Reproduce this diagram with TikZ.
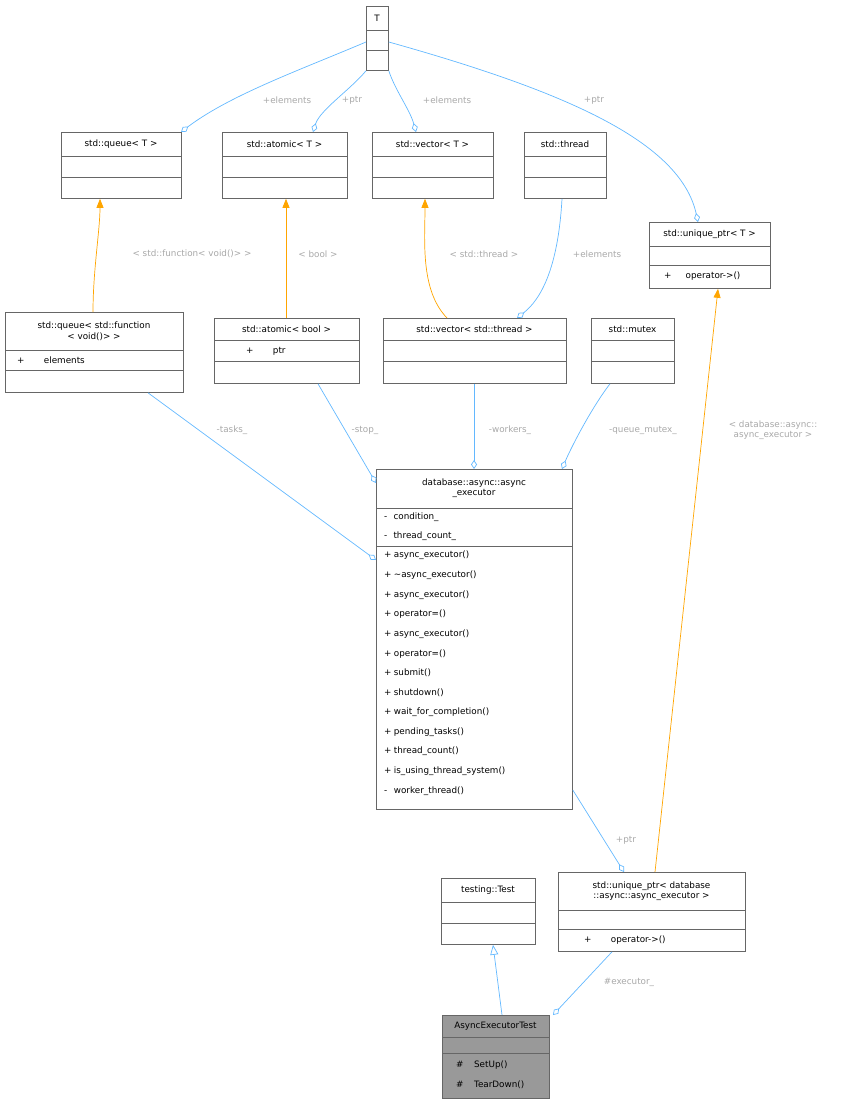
\documentclass[tikz,border=0pt]{standalone}
\usepackage{fontspec}
\setmainfont{DejaVu Sans}
\usetikzlibrary{arrows.meta}
\definecolor{edgeblue}{HTML}{63B8FF}
\definecolor{edgeorange}{HTML}{FFA500}
\definecolor{boxgray}{HTML}{666666}
\definecolor{labelgray}{HTML}{A8A8A8}
\tikzset{
  classbox/.style={draw=boxgray, anchor=north west, inner sep=0pt, line width=0.8pt},
  rowtext/.style={anchor=west, inner sep=0pt, font=\fontsize{8.8}{10}\selectfont},
  titletext/.style={anchor=center, inner sep=0pt, align=center, font=\fontsize{8.8}{10.5}\selectfont},
  edgelabel/.style={text=labelgray, inner sep=0pt, align=center, font=\fontsize{8.8}{10.5}\selectfont},
  usage/.style={draw=edgeblue, line width=0.7pt, -{Diamond[open,length=9pt,width=6pt]}},
  template/.style={draw=edgeorange, line width=0.7pt, -{Triangle[length=9pt,width=7pt]}},
  inherit/.style={draw=edgeblue, line width=0.7pt, -{Triangle[open,length=10pt,width=8pt]}},
}
% \classbox{name}{x1}{y1}{x2}{y2}{title}{fill}
\newcommand{\classbox}[7]{%
  \node[classbox, fill=#7, minimum width=#4pt-#2pt, minimum height=#5pt-#3pt] (#1) at (#2,#3) {};
}
\newcommand{\rowline}[2]{\draw[boxgray, line width=0.8pt] (#1.west |- 0,#2) -- (#1.east |- 0,#2);}
\begin{document}
\begin{tikzpicture}[x=1pt,y=-1pt]
  \useasboundingbox (0,0) rectangle (844,1105);
  %% classes
  \classbox{T}{366}{6}{388}{70}{}{white}
  \node[titletext] (Tt) at (377,18) {T};
  \rowline{T}{30} \rowline{T}{50}
  \classbox{queueT}{61}{132}{181}{198}{}{white}
  \node[titletext] at (121,144) {std::queue< T >};
  \rowline{queueT}{156} \rowline{queueT}{177}
  \classbox{atomicT}{222}{132}{347}{198}{}{white}
  \node[titletext] at (284.5,144) {std::atomic< T >};
  \rowline{atomicT}{156} \rowline{atomicT}{177}
  \classbox{vectorT}{372}{132}{493}{198}{}{white}
  \node[titletext] at (432.5,144) {std::vector< T >};
  \rowline{vectorT}{156} \rowline{vectorT}{177}
  \classbox{thread}{524}{132}{606}{198}{}{white}
  \node[titletext] at (565,144) {std::thread};
  \rowline{thread}{156} \rowline{thread}{177}
  \classbox{uniqueT}{649}{222}{770}{288}{}{white}
  \node[titletext] at (709.5,234) {std::unique\_ptr< T >};
  \rowline{uniqueT}{246} \rowline{uniqueT}{265}
  \node[rowtext] at (664,276) {+\hspace{1.6em}operator->()};
  \classbox{queueFn}{5}{312}{183}{392}{}{white}
  \node[titletext] at (94,331) {std::queue< std::function\\< void()> >};
  \rowline{queueFn}{350} \rowline{queueFn}{370}
  \node[rowtext] at (17,360) {+\hspace{2.2em}elements};
  \classbox{atomicBool}{214}{318}{359}{383}{}{white}
  \node[titletext] at (286.5,329) {std::atomic< bool >};
  \rowline{atomicBool}{340} \rowline{atomicBool}{361}
  \node[rowtext] at (246,351) {+\hspace{2.2em}ptr};
  \classbox{vectorThread}{383}{318}{566}{383}{}{white}
  \node[titletext] at (474.5,329) {std::vector< std::thread >};
  \rowline{vectorThread}{340} \rowline{vectorThread}{361}
  \classbox{mutex}{591}{318}{674}{383}{}{white}
  \node[titletext] at (632.5,329) {std::mutex};
  \rowline{mutex}{340} \rowline{mutex}{361}
  \classbox{executor}{376}{469}{572}{809}{}{white}
  \node[titletext] at (474,488) {database::async::async\\\_executor};
  \rowline{executor}{508} \rowline{executor}{546}
  \foreach \txt [count=\i] in {condition\_, thread\_count\_}
    \node[rowtext] at (384,498+19*\i) {-\hspace{0.7em}\txt};
  \foreach \sym/\txt [count=\i] in {+/async\_executor(), +/\textasciitilde async\_executor(),
      +/async\_executor(), +/operator=(), +/async\_executor(), +/operator=(), +/submit(),
      +/shutdown(), +/wait\_for\_completion(), +/pending\_tasks(), +/thread\_count(),
      +/is\_using\_thread\_system(), -/worker\_thread()}
    \node[rowtext] at (384,536+19.6*\i) {\makebox[1.1em][l]{\sym}\txt};
  \classbox{test}{441}{878}{535}{944}{}{white}
  \node[titletext] at (488,890) {testing::Test};
  \rowline{test}{902} \rowline{test}{923}
  \classbox{uniqueExec}{558}{872}{745}{951}{}{white}
  \node[titletext] at (651.5,891) {std::unique\_ptr< database\\::async::async\_executor >};
  \rowline{uniqueExec}{910} \rowline{uniqueExec}{929}
  \node[rowtext] at (584,940) {+\hspace{2.2em}operator->()};
  \classbox{asyncTest}{442}{1015}{549}{1098}{}{black!40}
  \node[titletext] at (495.5,1026) {AsyncExecutorTest};
  \rowline{asyncTest}{1037} \rowline{asyncTest}{1053}
  \node[rowtext] at (456,1065) {\#\hspace{1.2em}SetUp()};
  \node[rowtext] at (456,1085) {\#\hspace{1.2em}TearDown()};
  %% edges
  \draw[usage] (T.west |- 0,42) .. controls (300,70) and (230,95) .. (queueT.north -| 181,0);
  \node[edgelabel] at (287,100) {+elements};
  \draw[usage] (T.south west) .. controls (350,90) and (320,110) .. (atomicT.north -| 313,0);
  \node[edgelabel] at (352,100) {+ptr};
  \draw[usage] (T.south east) .. controls (395,90) and (410,110) .. (vectorT.north -| 416,0);
  \node[edgelabel] at (447,100) {+elements};
  \draw[usage] (T.east |- 0,42) .. controls (560,90) and (680,140) .. (uniqueT.north -| 698,0);
  \node[edgelabel] at (594,100) {+ptr};
  \draw[template] (queueFn.north -| 93,0) .. controls (93,270) and (100,230) .. (queueT.south -| 100,0);
  \node[edgelabel] at (192,254) {< std::function< void()> >};
  \draw[template] (atomicBool.north -| 286,0) -- (atomicT.south -| 286,0);
  \node[edgelabel] at (318,254) {< bool >};
  \draw[template] (vectorThread.north -| 447,0) .. controls (420,290) and (425,240) .. (vectorT.south -| 425,0);
  \node[edgelabel] at (484,254) {< std::thread >};
  \draw[usage] (thread.south -| 562,0) .. controls (558,270) and (540,300) .. (vectorThread.north -| 517,0);
  \node[edgelabel] at (597,254) {+elements};
  \draw[usage] (queueFn.south -| 148,0) -- (executor.west |- 0,560);
  \node[edgelabel] at (232,430) {-tasks\_};
  \draw[usage] (atomicBool.south -| 318,0) -- (executor.west |- 0,483);
  \node[edgelabel] at (365,430) {-stop\_};
  \draw[usage] (vectorThread.south -| 474,0) -- (executor.north -| 474,0);
  \node[edgelabel] at (510,430) {-workers\_};
  \draw[usage] (mutex.south -| 610,0) .. controls (590,410) and (570,450) .. (executor.north -| 562,0);
  \node[edgelabel] at (643,430) {-queue\_mutex\_};
  \draw[usage] (executor.east |- 0,790) -- (uniqueExec.north -| 624,0);
  \node[edgelabel] at (626,840) {+ptr};
  \draw[template] (uniqueExec.north -| 655,0) -- (uniqueT.south -| 718,0);
  \node[edgelabel] at (773,430) {< database::async::\\async\_executor >};
  \draw[inherit] (asyncTest.north -| 502,0) -- (test.south -| 493,0);
  \draw[usage] (uniqueExec.south -| 612,0) -- (asyncTest.north -| 553,0);
  \node[edgelabel] at (629,982) {\#executor\_};
\end{tikzpicture}
\end{document}
